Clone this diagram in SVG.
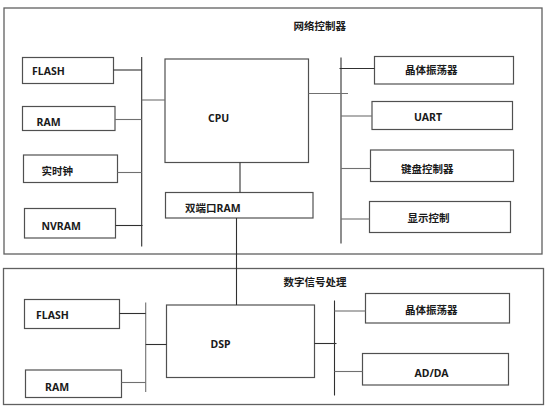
<svg xmlns="http://www.w3.org/2000/svg" width="554" height="411" viewBox="0 0 554 411">
<style>
.box{fill:#fff;stroke:#505050;stroke-width:1.2}
.frame{fill:#fff;stroke:#606060;stroke-width:1.3}
.t{font-family:"Noto Sans","Noto Sans CJK SC",sans-serif;font-size:10.5px;font-weight:bold;fill:#1a1a1a}
.c{stroke:#303030;stroke-width:1.1;fill:none}
.g{stroke:#707070;stroke-width:1.1;fill:none}
</style>
<rect width="554" height="411" fill="#fff"/>
<g id="network-controller">
<rect class="frame" x="4" y="8" width="538" height="246"/>
<text class="t" x="293.5" y="30">网络控制器</text>
</g>
<g id="dsp-section">
<rect class="frame" x="3.5" y="268.5" width="540" height="136"/>
<text class="t" x="283.5" y="286">数字信号处理</text>
</g>
<g id="flash1"><rect class="box" x="22.5" y="57.5" width="91" height="26"/><text class="t" x="32" y="75">FLASH</text></g>
<g id="ram1"><rect class="box" x="22.5" y="106.5" width="92.5" height="24"/><text class="t" x="36.5" y="126">RAM</text></g>
<g id="rtc"><rect class="box" x="23.5" y="155" width="94" height="27.5"/><text class="t" x="41.5" y="175">实时钟</text></g>
<g id="nvram"><rect class="box" x="24.5" y="208.5" width="91" height="29.5"/><text class="t" x="41.5" y="230">NVRAM</text></g>
<g id="cpu"><rect class="box" x="165" y="59" width="143.5" height="103.5"/><text class="t" x="208" y="121.5">CPU</text></g>
<g id="dpram"><rect class="box" x="165.5" y="192.5" width="147.5" height="25.5"/><text class="t" x="185" y="211.5">双端口RAM</text></g>
<g id="osc1"><rect class="box" x="374.5" y="56.5" width="139" height="27.5"/><text class="t" x="405" y="74">晶体振荡器</text></g>
<g id="uart"><rect class="box" x="372" y="101.5" width="140.5" height="28"/><text class="t" x="414" y="120.5">UART</text></g>
<g id="kbd"><rect class="box" x="370.5" y="150" width="143" height="31.5"/><text class="t" x="401" y="172.5">键盘控制器</text></g>
<g id="disp"><rect class="box" x="369.5" y="201.5" width="141" height="31"/><text class="t" x="407.5" y="221.5">显示控制</text></g>
<g id="flash2"><rect class="box" x="24.5" y="299.5" width="95" height="29"/><text class="t" x="36" y="318.5">FLASH</text></g>
<g id="ram2"><rect class="box" x="25.5" y="370" width="96" height="27.5"/><text class="t" x="45" y="391">RAM</text></g>
<g id="dsp"><rect class="box" x="166.5" y="305" width="148" height="72.5"/><text class="t" x="210.5" y="348">DSP</text></g>
<g id="osc2"><rect class="box" x="365.5" y="293.5" width="144" height="29.5"/><text class="t" x="405" y="313.5">晶体振荡器</text></g>
<g id="adda"><rect class="box" x="362.5" y="353.5" width="146" height="31.5"/><text class="t" x="414.5" y="377">AD/DA</text></g>
<g id="connectors">
<line class="c" x1="141.7" y1="57" x2="141.7" y2="246.5"/>
<line class="c" x1="113.5" y1="70" x2="141.7" y2="70"/>
<line class="g" x1="115" y1="119.5" x2="141.7" y2="119.5"/>
<line class="g" x1="117.5" y1="172.5" x2="141.7" y2="172.5"/>
<line class="c" x1="115.5" y1="225.5" x2="142.5" y2="225.5"/>
<line class="g" x1="141.7" y1="100" x2="165" y2="100"/>
<line class="c" x1="240" y1="162.5" x2="240" y2="192.5"/>
<line class="c" x1="236.5" y1="218" x2="236.5" y2="305"/>
<line class="c" x1="341" y1="57.5" x2="341" y2="243.5"/>
<line class="g" x1="308.5" y1="93.5" x2="348" y2="93.5"/>
<line class="c" x1="339.5" y1="68.5" x2="374.5" y2="68.5"/>
<line class="g" x1="341" y1="116" x2="372" y2="116"/>
<line class="g" x1="341" y1="168.5" x2="370.5" y2="168.5"/>
<line class="g" x1="341" y1="219" x2="369.5" y2="219"/>
<line class="g" x1="145.7" y1="302.5" x2="145.7" y2="392"/>
<line class="c" x1="119.5" y1="313.5" x2="145.7" y2="313.5"/>
<line class="g" x1="121.5" y1="382.5" x2="145.7" y2="382.5"/>
<line class="c" x1="145.7" y1="344.5" x2="166.5" y2="344.5"/>
<line class="c" x1="334.5" y1="300.5" x2="334.5" y2="395.5"/>
<line class="c" x1="314.5" y1="343.5" x2="336.5" y2="343.5"/>
<line class="g" x1="334.5" y1="311" x2="365.5" y2="311"/>
<line class="g" x1="334.5" y1="371.5" x2="362.5" y2="371.5"/>
</g>
</svg>
